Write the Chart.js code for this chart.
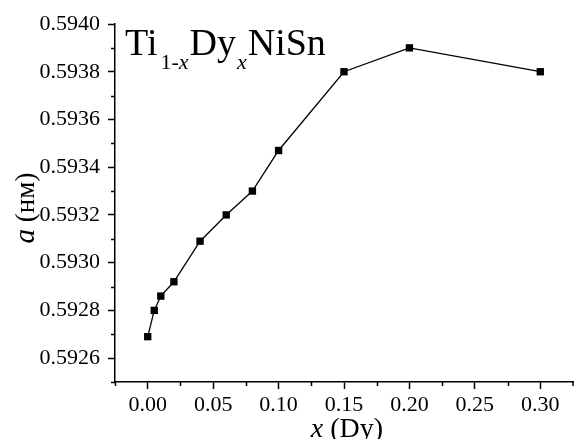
<!DOCTYPE html>
<html>
<head>
<meta charset="utf-8">
<script src="https://cdn.jsdelivr.net/npm/chart.js@4.4.1/dist/chart.umd.min.js"></script>
<style>
  html, body { margin: 0; padding: 0; background: #fff; overflow: hidden; }
  #wrap { width: 574px; height: 439px; position: relative; }
</style>
</head>
<body>
<div id="wrap"><canvas id="c"></canvas></div>
<script>
// Ti(1-x)Dy(x)NiSn lattice parameter vs Dy content
const xDy   = [0, 0.005, 0.01, 0.02, 0.04, 0.06, 0.08, 0.10, 0.15, 0.20, 0.30];
const aNm   = [0.59269, 0.59280, 0.59286, 0.59292, 0.59309, 0.59320, 0.59330, 0.59347, 0.59380, 0.59390, 0.59380];
const xTicks = [0.00, 0.05, 0.10, 0.15, 0.20, 0.25, 0.30];
const yTicks = [0.5926, 0.5928, 0.5930, 0.5932, 0.5934, 0.5936, 0.5938, 0.5940];

const SERIF = "'Liberation Serif', 'DejaVu Serif', serif";

// minor ticks half way between major ones, drawn shorter
const minorTicks = {
    id: 'minorTicks',
    afterDraw(chart) {
        const ctx = chart.ctx;
        ctx.save();
        ctx.strokeStyle = '#000';
        ctx.lineWidth = 1.5;
        const xs = chart.scales.x, ys = chart.scales.y;
        const half = (arr) => {
            const step = arr[1] - arr[0];
            const out = [arr[0] - step / 2];
            arr.forEach(v => out.push(v + step / 2));
            return out;
        };
        half(xTicks).forEach(v => {
            if (v < xs.min - 1e-9 || v > xs.max + 1e-9) return;
            const px = Math.min(Math.round(xs.getPixelForValue(v)) + 0.5, chart.width - 1);
            ctx.beginPath(); ctx.moveTo(px, xs.top); ctx.lineTo(px, xs.top + 4); ctx.stroke();
        });
        half(yTicks).forEach(v => {
            if (v < ys.min - 1e-9 || v > ys.max + 1e-9) return;
            const py = Math.round(ys.getPixelForValue(v)) + 0.5;
            ctx.beginPath(); ctx.moveTo(ys.right, py); ctx.lineTo(ys.right - 4, py); ctx.stroke();
        });
        ctx.restore();
    }
};

// formula label and mixed-style axis titles
const labels = {
    id: 'labels',
    afterDraw(chart) {
        const ctx = chart.ctx, ca = chart.chartArea;
        ctx.save();
        ctx.fillStyle = '#000';
        ctx.textBaseline = 'alphabetic';
        ctx.textAlign = 'left';

        const big = '38px ' + SERIF, sub = '22px ' + SERIF, subI = 'italic 22px ' + SERIF;
        let x = ca.left + 10;
        const base = ca.top + 31, subBase = base + 14;
        const put = (txt, font, y, gap = 0) => {
            ctx.font = font; ctx.fillText(txt, x, y);
            x += ctx.measureText(txt).width + gap;
        };
        put('Ti', big, base, 3);
        put('1-', sub, subBase);
        put('x', subI, subBase, 1);
        put('Dy', big, base, 1);
        put('x', subI, subBase, 1);
        put('NiSn', big, base);

        // x axis title
        const t1 = 'x', t2 = ' (Dy)';
        ctx.font = 'italic 28px ' + SERIF; const w1 = ctx.measureText(t1).width;
        ctx.font = '28px ' + SERIF; const w2 = ctx.measureText(t2).width;
        let sx = (ca.left + ca.right) / 2 - (w1 + w2) / 2 + 3;
        ctx.font = 'italic 28px ' + SERIF; ctx.fillText(t1, sx, 437);
        ctx.font = '28px ' + SERIF; ctx.fillText(t2, sx + w1, 437);

        // y axis title, rotated
        const u1 = 'a', u2 = ' (нм)';
        ctx.font = 'italic 29px ' + SERIF; const v1 = ctx.measureText(u1).width;
        ctx.font = '27px ' + SERIF; const v2 = ctx.measureText(u2).width;
        ctx.translate(34, 208);
        ctx.rotate(-Math.PI / 2);
        let sy = -(v1 + v2) / 2;
        ctx.font = 'italic 29px ' + SERIF; ctx.fillText(u1, sy, 0);
        ctx.font = '27px ' + SERIF; ctx.fillText(u2, sy + v1, 0);
        ctx.restore();
    }
};

new Chart(document.getElementById('c'), {
    type: 'line',
    data: {
        datasets: [{
            data: xDy.map((v, i) => ({ x: v, y: aNm[i] })),
            borderColor: '#000', borderWidth: 1.3,
            backgroundColor: '#000',
            pointStyle: 'rect', pointRadius: 5.2, pointBorderWidth: 0,
            pointBackgroundColor: '#000',
            tension: 0, fill: false, clip: false,
        }]
    },
    options: {
        animation: false,
        responsive: true, maintainAspectRatio: false,
        devicePixelRatio: 1,
        layout: { autoPadding: false, padding: { top: 24, right: 1, left: 0, bottom: 0 } },
        plugins: { legend: { display: false }, tooltip: { enabled: false } },
        scales: {
            x: {
                type: 'linear', min: -0.025, max: 0.325,
                afterBuildTicks: s => { s.ticks = xTicks.map(v => ({ value: v })); },
                afterFit: s => { s.height = 57; s.paddingLeft = 0; s.paddingRight = 0; },
                border: { color: '#000', width: 1.5 },
                grid: { drawOnChartArea: false, drawTicks: true, tickLength: 7, tickColor: '#000', tickWidth: 1.5 },
                ticks: {
                    color: '#000', padding: 3, maxRotation: 0, autoSkip: false,
                    font: { family: SERIF, size: 22 },
                    callback: v => v.toFixed(2),
                },
            },
            y: {
                type: 'linear', min: 0.5925, max: 0.5940,
                afterBuildTicks: s => { s.ticks = yTicks.map(v => ({ value: v })); },
                afterFit: s => { s.width = 115; s.paddingTop = 0; s.paddingBottom = 0; },
                border: { color: '#000', width: 1.5 },
                grid: { drawOnChartArea: false, drawTicks: true, tickLength: 7, tickColor: '#000', tickWidth: 1.5 },
                ticks: {
                    color: '#000', padding: 8, autoSkip: false,
                    font: { family: SERIF, size: 22 },
                    callback: v => v.toFixed(4),
                },
            },
        },
    },
    plugins: [minorTicks, labels],
});
</script>
</body>
</html>
